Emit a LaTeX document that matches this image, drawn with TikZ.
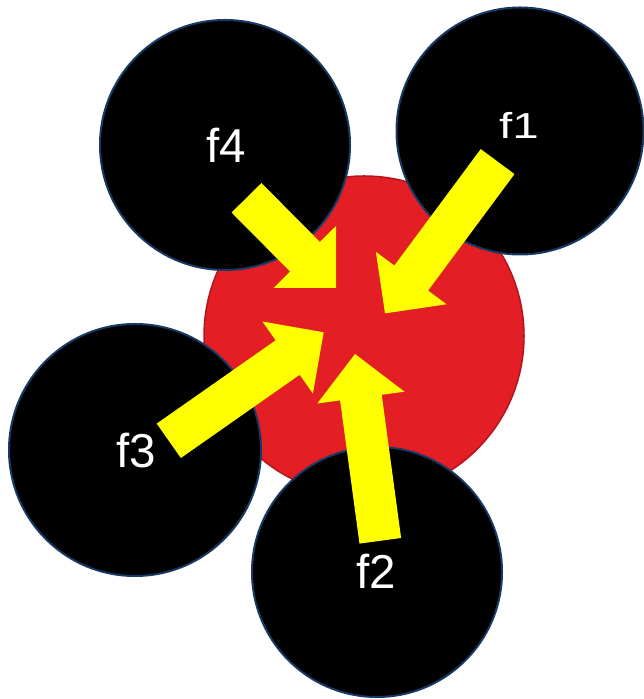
\documentclass[tikz,border=0pt]{standalone}
\usepackage{fontspec}
\setmainfont{Liberation Sans}
\usetikzlibrary{calc}
\definecolor{redfill}{RGB}{227,30,36}
\definecolor{redline}{RGB}{180,20,28}
\definecolor{blueline}{RGB}{22,58,100}
\definecolor{yel}{RGB}{255,255,0}
\tikzset{
  redball/.style={circle, fill=redfill, draw=redline, line width=1.5bp, inner sep=0pt},
  blackball/.style={circle, fill=black, draw=blueline, line width=2bp, inner sep=0pt},
  lbl/.style={text=white, anchor=base, inner sep=0pt, font=\fontsize{47.7}{50}\selectfont},
  arrowfill/.style={fill=yel}
}
\newcommand{\blockarrow}[2]{%
  \coordinate (nk) at ($(#2)!44bp!(#1)$);
  \fill[arrowfill] ($(#1)!21bp!90:(#2)$) -- ($(nk)!21bp!90:(#2)$) -- ($(nk)!44bp!90:(#2)$)
    -- (#2) -- ($(nk)!44bp!-90:(#2)$) -- ($(nk)!21bp!-90:(#2)$) -- ($(#1)!21bp!-90:(#2)$) -- cycle;
}
\begin{document}
\begin{tikzpicture}[x=1bp,y=1bp]
\useasboundingbox (0,0) rectangle (644,699);
\node[redball, minimum size=320bp] (core) at (364,363) {};
\node[blackball, minimum size=250bp] (c4) at (225,554) {};
\node[blackball, minimum size=247bp] (c1) at (520,568) {};
\node[blackball, minimum size=252bp] (c3) at (135,249) {};
\node[blackball, minimum size=250bp] (c2) at (377,127) {};
% arrows
\coordinate (t1) at (497.6,537.4); \coordinate (p1) at (385,385.6);
\coordinate (t2) at (380.3,158.2); \coordinate (p2) at (355,345);
\coordinate (t3) at (168.8,258.2); \coordinate (p3) at (323.7,366.7);
\coordinate (t4) at (246.5,501.2); \coordinate (p4) at (336,411);
\blockarrow{t1}{p1}
\blockarrow{t2}{p2}
\blockarrow{t3}{p3}
\blockarrow{t4}{p4}
% labels
\node[lbl] (l1) at (519,560) {\scalebox{1}[0.76]{f1}};
\node[lbl] (l4) at (226,536.3) {f4};
\node[lbl] (l3) at (136.5,231.3) {f3};
\node[lbl] (l2) at (376.5,110) {f2};
\end{tikzpicture}
\end{document}
